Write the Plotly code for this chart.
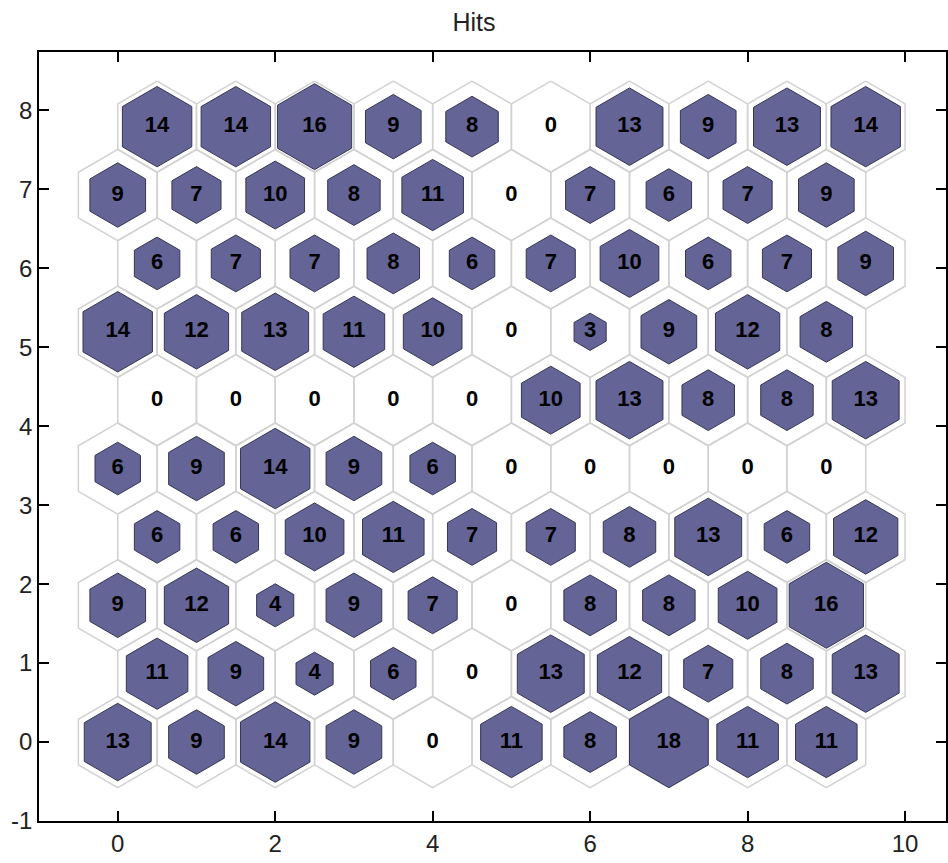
import numpy as np
import plotly.graph_objects as go

# Hits per neuron, rows listed bottom (row 0) to top (row 9), columns left to right
row0 = [13, 9, 14, 9, 0, 11, 8, 18, 11, 11]
row1 = [11, 9, 4, 6, 0, 13, 12, 7, 8, 13]
row2 = [9, 12, 4, 9, 7, 0, 8, 8, 10, 16]
row3 = [6, 6, 10, 11, 7, 7, 8, 13, 6, 12]
row4 = [6, 9, 14, 9, 6, 0, 0, 0, 0, 0]
row5 = [0, 0, 0, 0, 0, 10, 13, 8, 8, 13]
row6 = [14, 12, 13, 11, 10, 0, 3, 9, 12, 8]
row7 = [6, 7, 7, 8, 6, 7, 10, 6, 7, 9]
row8 = [9, 7, 10, 8, 11, 0, 7, 6, 7, 9]
row9 = [14, 14, 16, 9, 8, 0, 13, 9, 13, 14]
hits_rows = [row0, row1, row2, row3, row4, row5, row6, row7, row8, row9]

x_ticks = [0, 2, 4, 6, 8, 10]
y_ticks = [-1, 0, 1, 2, 3, 4, 5, 6, 7, 8]
y_tick_labels = ["-1", "0", "1", "2", "3", "4", "5", "6", "7", "8"]

FILL = "rgb(100,100,150)"
R = 1 / np.sqrt(3)
ang = np.deg2rad(90 + 60 * np.arange(7))
hx, hy = R * np.cos(ang), R * np.sin(ang)

max_hits = max(max(r) for r in hits_rows)

bgx, bgy, fx, fy, tx, ty, tt = [], [], [], [], [], [], []
for ri, row in enumerate(hits_rows):
    for ci, h in enumerate(row):
        cx = ci + 0.5 * (ri % 2)
        cy = ri * np.sqrt(3) / 2
        bgx += list(cx + hx) + [None]
        bgy += list(cy + hy) + [None]
        if h > 0:
            s = np.sqrt(h / max_hits)
            fx += list(cx + s * hx) + [None]
            fy += list(cy + s * hy) + [None]
        tx.append(cx)
        ty.append(cy)
        tt.append(str(h))

fig = go.Figure()
fig.add_trace(go.Scatter(x=bgx, y=bgy, mode="lines", fill="toself",
                         fillcolor="white", line=dict(color="#d2d2d2", width=1.5),
                         hoverinfo="skip", showlegend=False))
fig.add_trace(go.Scatter(x=fx, y=fy, mode="lines", fill="toself",
                         fillcolor=FILL, line=dict(color="rgb(55,55,85)", width=1),
                         hoverinfo="skip", showlegend=False))
fig.add_trace(go.Scatter(x=tx, y=ty, mode="text", text=tt,
                         textfont=dict(family="Liberation Sans, Arial", size=22, color="black",
                                       weight="bold"),
                         textposition="middle center", hoverinfo="skip", showlegend=False))

axis_common = dict(showgrid=False, zeroline=False, showline=True, linecolor="black",
                   linewidth=1.5, mirror="ticks", ticks="inside", ticklen=10,
                   tickwidth=1.5, tickcolor="black",
                   tickfont=dict(family="Liberation Sans, Arial", size=24, color="#222"))

fig.update_layout(
    width=948, height=863,
    margin=dict(l=39, r=2, t=52, b=42),
    paper_bgcolor="white", plot_bgcolor="white",
    title=dict(text="Hits", x=0.5, xanchor="center", y=1 - 22 / 863, yanchor="middle",
               font=dict(family="Liberation Sans, Arial", size=25, color="#222")),
    xaxis=dict(range=[-1, 10.52], tickvals=x_ticks, automargin=False, **axis_common),
    yaxis=dict(range=[-1, 8.74], tickvals=y_ticks, ticktext=y_tick_labels,
               automargin=False, **axis_common),
)

fig.write_html("out.html", config={"displayModeBar": False},
               post_script="document.body.style.margin='0';")
